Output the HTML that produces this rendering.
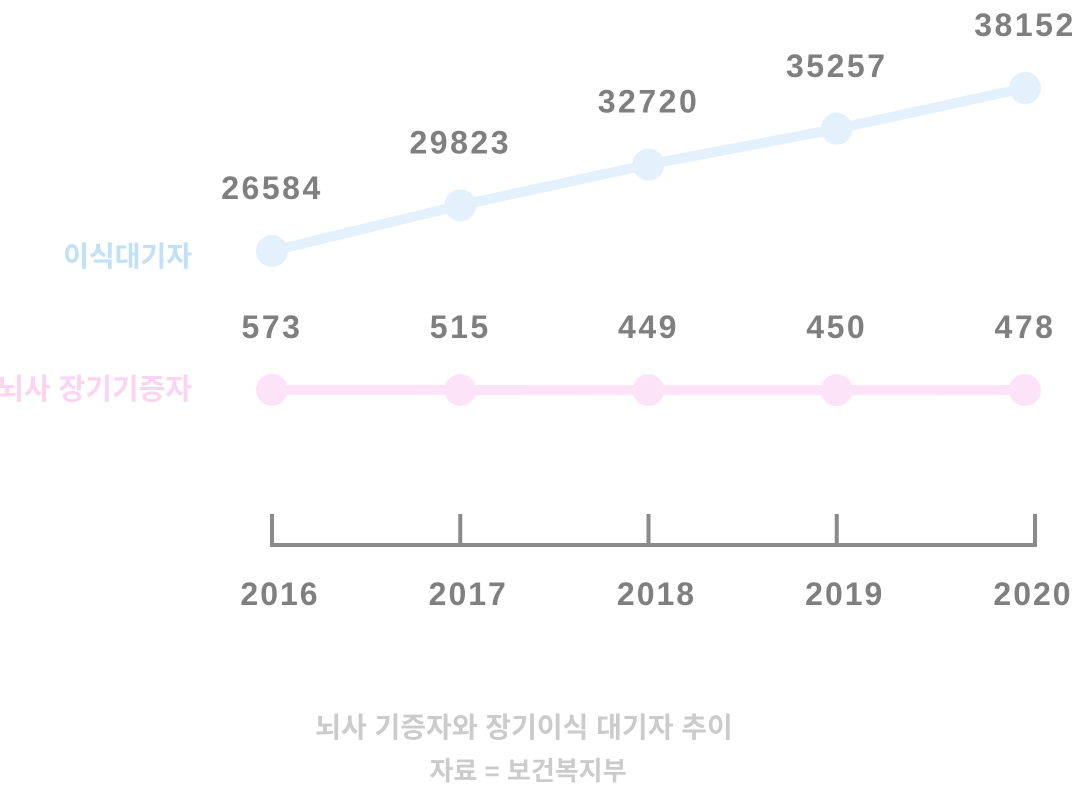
<!DOCTYPE html>
<html><head><meta charset="utf-8">
<style>
html,body{margin:0;padding:0;background:#fff;}
svg{display:block;font-family:"Liberation Sans","Noto Sans CJK KR","NanumGothic",sans-serif;}
</style></head>
<body>
<svg id="chart" width="1078" height="786" viewBox="0 0 1078 786" xmlns="http://www.w3.org/2000/svg">
  <g id="axis"></g>
  <g id="marks"></g>
  <text x="192" y="266" text-anchor="end" font-size="28" font-weight="bold" fill="#bfe0fb">이식대기자</text>
  <text x="192" y="399" text-anchor="end" font-size="29" font-weight="bold" fill="#fcd3f0">뇌사 장기기증자</text>
  <text x="524" y="737" text-anchor="middle" font-size="28" font-weight="bold" fill="#cbcbcb">뇌사 기증자와 장기이식 대기자 추이</text>
  <text x="528" y="780" text-anchor="middle" font-size="26" font-weight="bold" fill="#cbcbcb">자료 = 보건복지부</text>
</svg>
<script>
const years = ["2016","2017","2018","2019","2020"];
const waiting = [26584, 29823, 32720, 35257, 38152];
const donors = [573, 515, 449, 450, 478];

const NS = "http://www.w3.org/2000/svg";
function xPos(i){ return 272 + i * (1025 - 272) / (years.length - 1); }
function yWait(v){ return 251 - (v - 26584) * (251 - 88) / (38152 - 26584); }
function yDonor(v){ return 390 - (v - 500) * 0.002; }
function mk(tag, attrs, parent){
  const el = document.createElementNS(NS, tag);
  for (const k in attrs) el.setAttribute(k, attrs[k]);
  parent.appendChild(el);
  return el;
}
const axis = document.getElementById('axis');
const marks = document.getElementById('marks');

const base = mk('line', {x1: xPos(0), x2: xPos(years.length-1)+10, y1: 545, y2: 545, stroke: '#8a8a8a', 'stroke-width': 4}, axis);


years.forEach((y, i) => {
  const x = i === years.length-1 ? xPos(i)+10 : xPos(i);
  const t = mk('line', {x1: x, x2: x, y1: 514, y2: 547, stroke: '#8a8a8a', 'stroke-width': 4}, axis);
  
  
  const lb = mk('text', {x: xPos(i)+8, y: 605, 'text-anchor': 'middle', 'font-size': 32, 'letter-spacing': 2, 'font-weight': 'bold', fill: '#7f7f7f'}, axis);
  lb.textContent = y;
  
  
});

function series(vals, yf, lineColor, name){
  const pts = vals.map((v, i) => xPos(i) + ',' + yf(v)).join(' ');
  const pl = mk('polyline', {points: pts, fill: 'none', stroke: lineColor, 'stroke-width': 10}, marks);
  
  
  vals.forEach((v, i) => {
    const c = mk('circle', {cx: xPos(i), cy: yf(v), r: 16, fill: lineColor}, marks);
    
    
    const t = mk('text', {x: xPos(i), y: yf(v) - 52, 'text-anchor': 'middle', 'font-size': 32, 'letter-spacing': 2.5, 'font-weight': 'bold', fill: '#7f7f7f'}, marks);
    t.textContent = v;
    
    
  });
}
series(waiting, yWait, '#e3f1fc', 'waiting');
series(donors, yDonor, '#fde3f7', 'donor');
</script>
</body></html>
